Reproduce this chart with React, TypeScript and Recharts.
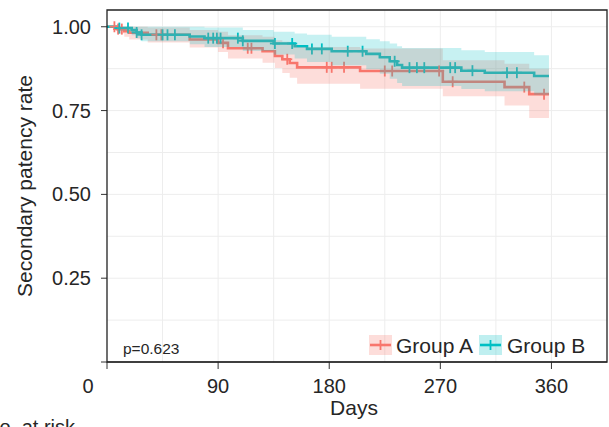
import React from 'react';
import { ComposedChart, Line, Area, Scatter, XAxis, YAxis, CartesianGrid, ReferenceArea } from 'recharts';

// Kaplan-Meier steps
const stepDaysA = [0, 8, 14, 18, 33, 67, 90, 98, 126, 136, 142, 148, 154, 205, 272, 322, 342, 358];
const survA = [1, 0.993, 0.987, 0.982, 0.976, 0.962, 0.952, 0.936, 0.927, 0.913, 0.903, 0.892, 0.879, 0.868, 0.836, 0.82, 0.799, 0.799];
const lowerA = [1, 0.98, 0.97, 0.962, 0.953, 0.938, 0.925, 0.905, 0.893, 0.877, 0.862, 0.848, 0.83, 0.815, 0.793, 0.765, 0.728, 0.728];
const upperA = [1, 1, 1, 1, 0.998, 0.99, 0.985, 0.975, 0.97, 0.96, 0.955, 0.948, 0.94, 0.935, 0.9, 0.89, 0.875, 0.875];
const censorA = [6, 9, 12, 40, 44, 94, 114, 117, 146, 178, 182, 192, 225, 231, 269, 280, 338, 354];

const stepDaysB = [0, 8, 20, 24, 28, 67, 79, 110, 135, 152, 162, 182, 210, 221, 229, 235, 239, 287, 306, 346, 358];
const survB = [1, 0.996, 0.99, 0.983, 0.976, 0.971, 0.966, 0.958, 0.95, 0.942, 0.934, 0.927, 0.919, 0.909, 0.897, 0.886, 0.878, 0.869, 0.863, 0.853, 0.853];
const lowerB = [1, 0.988, 0.975, 0.966, 0.957, 0.948, 0.94, 0.928, 0.917, 0.905, 0.895, 0.885, 0.873, 0.86, 0.845, 0.832, 0.823, 0.814, 0.808, 0.797, 0.797];
const upperB = [1, 1, 1, 1, 1, 1, 0.998, 0.99, 0.985, 0.98, 0.976, 0.97, 0.963, 0.957, 0.95, 0.942, 0.937, 0.93, 0.925, 0.915, 0.915];
const censorB = [10, 17, 24, 28, 45, 49, 55, 82, 86, 89, 92, 106, 110, 136, 150, 166, 174, 195, 207, 233, 245, 251, 257, 278, 282, 296, 324, 332];

const xTicks = [0, 90, 180, 270, 360];
const yTicks = [0, 0.25, 0.5, 0.75, 1];
const groupNames = ['Group A', 'Group B'];
const pValue = 'p=0.623';

const RED = '#F8766D';
const TEAL = '#00BFC4';
const FONT = '"Liberation Sans", Arial, sans-serif';
const TXT = '#262626';

const allDays = Array.from(new Set([...stepDaysA, ...stepDaysB])).sort((a, b) => a - b);
const rows = allDays.map((day) => {
  const ia = stepDaysA.indexOf(day);
  const ib = stepDaysB.indexOf(day);
  return {
    day,
    a: ia >= 0 ? survA[ia] : null,
    aBand: ia >= 0 ? [lowerA[ia], upperA[ia]] : null,
    b: ib >= 0 ? survB[ib] : null,
    bBand: ib >= 0 ? [lowerB[ib], upperB[ib]] : null,
  };
});

// value of the step curve at time t
const stepAt = (days: number[], surv: number[], t: number) => {
  let v = surv[0];
  days.forEach((d, i) => {
    if (d <= t) v = surv[i];
  });
  return v;
};
const censorRowsA = censorA.map((day) => ({ day, y: stepAt(stepDaysA, survA, day) }));
const censorRowsB = censorB.map((day) => ({ day, y: stepAt(stepDaysB, survB, day) }));

const plus = (color: string) => (props: any) => {
  const { cx, cy } = props;
  if (cx == null || cy == null) return <g />;
  return (
    <g stroke={color} strokeWidth={1.8}>
      <line x1={cx - 5} y1={cy} x2={cx + 5} y2={cy} />
      <line x1={cx} y1={cy - 5.5} x2={cx} y2={cy + 5.5} />
    </g>
  );
};

const XTick = (props: any) => {
  const { x, y, payload } = props;
  const shift = payload.value === 0 ? -19 : 0;
  return (
    <text x={x + shift} y={y} dy="0.71em" textAnchor="middle" fontSize={20} fill={TXT} fontFamily={FONT}>
      {payload.value}
    </text>
  );
};

const LegendKey = ({ x, color }: { x: number; color: string }) => (
  <g>
    <rect x={x} y={335} width={23} height={20} fill={color} fillOpacity={0.25} />
    <line x1={x + 1} y1={345} x2={x + 22} y2={345} stroke={color} strokeWidth={2.6} />
    <line x1={x + 11.5} y1={340} x2={x + 11.5} y2={350} stroke={color} strokeWidth={1.8} />
  </g>
);

export default function App() {
  return (
    <div style={{ position: 'fixed', left: 0, top: 0, width: 609, height: 427, overflow: 'hidden', background: '#fff' }}>
      <ComposedChart width={609} height={427} data={rows} margin={{ top: 10, right: 2, bottom: 0, left: 0 }}>
        <CartesianGrid
          stroke="#ededed"
          horizontalValues={[0.125, 0.25, 0.375, 0.5, 0.625, 0.75, 0.875, 1]}
          verticalValues={[45, 90, 135, 180, 225, 270, 315, 360]}
        />
        <XAxis
          type="number"
          dataKey="day"
          domain={[0, 405]}
          ticks={xTicks}
          height={65}
          tickSize={7}
          tickMargin={10}
          tick={<XTick />}
          tickLine={{ stroke: '#333' }}
          axisLine={{ stroke: '#333' }}
          allowDataOverflow
        />
        <YAxis
          type="number"
          domain={[0, 1.05]}
          ticks={yTicks}
          width={107}
          tickSize={6}
          tickMargin={10}
          tickFormatter={(v: number) => (v === 0 ? '' : v.toFixed(2))}
          tick={{ fontSize: 20, fill: TXT, fontFamily: FONT }}
          tickLine={{ stroke: '#333' }}
          axisLine={false}
          allowDataOverflow
        />
        <Line type="stepAfter" dataKey="a" stroke={RED} strokeWidth={2.6} dot={false} activeDot={false} connectNulls isAnimationActive={false} />
        <Line type="stepAfter" dataKey="b" stroke={TEAL} strokeWidth={2.6} dot={false} activeDot={false} connectNulls isAnimationActive={false} />
        <Scatter data={censorRowsA} dataKey="y" shape={plus(RED)} isAnimationActive={false} />
        <Scatter data={censorRowsB} dataKey="y" shape={plus(TEAL)} isAnimationActive={false} />
        <Area type="stepAfter" dataKey="aBand" stroke="none" fill={RED} fillOpacity={0.25} connectNulls isAnimationActive={false} activeDot={false} zIndex={700} />
        <Area type="stepAfter" dataKey="bBand" stroke="none" fill={TEAL} fillOpacity={0.22} connectNulls isAnimationActive={false} activeDot={false} zIndex={700} />
        <ReferenceArea x1={0} x2={405} y1={0} y2={1.05} fill="none" stroke="#222" strokeWidth={1.3} ifOverflow="visible" zIndex={800} />
      </ComposedChart>
      <svg width={609} height={427} style={{ position: 'absolute', left: 0, top: 0, pointerEvents: 'none' }} fontFamily={FONT}>
        <text x={32} y={186} transform="rotate(-90 32 186)" textAnchor="middle" fontSize={21} fill={TXT}>
          Secondary patency rate
        </text>
        <text x={354} y={415} textAnchor="middle" fontSize={21} fill={TXT}>
          Days
        </text>
        <text x={123} y={354} fontSize={15.5} fill={TXT}>
          {pValue}
        </text>
        <LegendKey x={369} color={RED} />
        <text x={396} y={353} fontSize={21} fill={TXT}>
          {groupNames[0]}
        </text>
        <LegendKey x={479} color={TEAL} />
        <text x={507} y={353} fontSize={21} fill={TXT}>
          {groupNames[1]}
        </text>
        <text x={-15} y={434} fontSize={20} fill={TXT}>
          No. at risk
        </text>
      </svg>
    </div>
  );
}
